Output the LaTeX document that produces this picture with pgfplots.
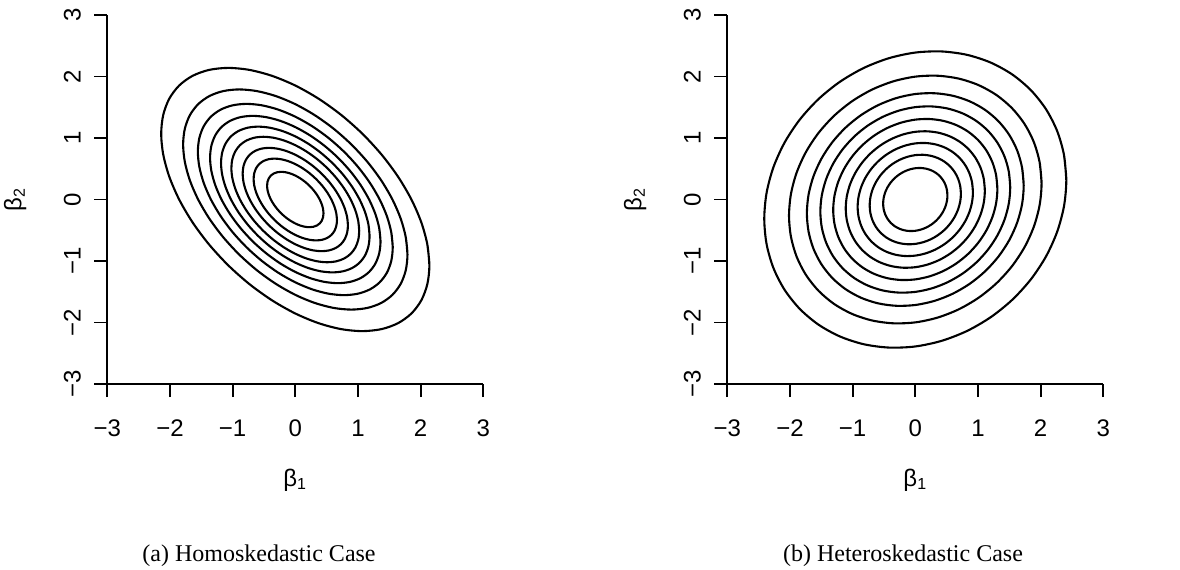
\documentclass[border=0pt]{standalone}
\usepackage{pgfplots}
\pgfplotsset{compat=1.18}
\usepackage{pgfplotstable}
\usepackage{fontspec}
\setmainfont{Liberation Serif}
\newfontfamily\rsans{Liberation Sans}

% Unit-level contour of each density (closed loop, first two points repeated)
\pgfplotstableread{
u v
1.0000 -0.5000
0.9848 -0.3421
0.9397 -0.1737
0.8660 0.0000
0.7660 0.1737
0.6428 0.3420
0.5000 0.5000
0.3420 0.6428
0.1736 0.7660
0.0000 0.8660
-0.1736 0.9396
-0.3420 0.9848
-0.5000 1.0000
-0.6428 0.9848
-0.7660 0.9397
-0.8660 0.8660
-0.9397 0.7661
-0.9848 0.6427
-1.0000 0.5000
-0.9848 0.3421
-0.9397 0.1737
-0.8660 0.0000
-0.7660 -0.1737
-0.6428 -0.3420
-0.5000 -0.5000
-0.3420 -0.6428
-0.1736 -0.7660
0.0000 -0.8660
0.1736 -0.9396
0.3420 -0.9848
0.5000 -1.0000
0.6428 -0.9848
0.7660 -0.9397
0.8660 -0.8660
0.9397 -0.7661
0.9848 -0.6427
1.0000 -0.5000
0.9848 -0.3421
}\homoshape

\pgfplotstableread{
u v
1.0000 0.1300
0.9848 0.3001
0.9397 0.4613
0.8660 0.6084
0.7660 0.7369
0.6428 0.8431
0.5000 0.9236
0.3420 0.9762
0.1736 0.9990
0.0000 0.9915
-0.1736 0.9538
-0.3420 0.8872
-0.5000 0.7936
-0.6428 0.6759
-0.7660 0.5377
-0.8660 0.3832
-0.9397 0.2169
-0.9848 0.0441
-1.0000 -0.1300
-0.9848 -0.3001
-0.9397 -0.4613
-0.8660 -0.6084
-0.7660 -0.7369
-0.6428 -0.8431
-0.5000 -0.9236
-0.3420 -0.9762
-0.1736 -0.9990
0.0000 -0.9915
0.1736 -0.9538
0.3420 -0.8872
0.5000 -0.7936
0.6428 -0.6759
0.7660 -0.5377
0.8660 -0.3832
0.9397 -0.2169
0.9848 -0.0441
1.0000 0.1300
0.9848 0.3001
}\heteroshape

\pgfplotsset{
  rbase/.style={
    scale only axis, width=188pt, height=184.5pt,
    xmin=-3, xmax=3, ymin=-3, ymax=3,
    axis x line*=bottom, axis y line*=left,
    axis line style={black, line width=0.9pt},
    tick align=outside, major tick length=6.5pt,
    tick style={black, line width=0.9pt},
    xtick={-3,-2,-1,0,1,2,3}, ytick={-3,-2,-1,0,1,2,3},
    xticklabels={−3,−2,−1,0,1,2,3},
    yticklabels={−3,−2,−1,0,1,2,3},
    ticklabel style={font=\rsans\fontsize{12}{14}\selectfont},
    xticklabel style={anchor=center, yshift=-15.5pt},
    yticklabel style={anchor=center, xshift=-11pt, rotate=90},
    label style={font=\rsans\fontsize{12}{14}\selectfont},
    xlabel={β\textsubscript{1}},
    ylabel={β\textsubscript{2}},
    xlabel style={at={(axis description cs:0.5,-0.26)}, anchor=center},
    ylabel style={at={(axis description cs:-0.245,0.5)}, anchor=center},
    clip=false,
  },
  ring/.style={black, line width=1.05pt, smooth, no markers},
}

\begin{document}
\begin{tikzpicture}
\useasboundingbox (0,0) rectangle (590pt,-284.5pt);

% Homoskedastic case
\begin{axis}[rbase, at={(53.65pt,-192pt)}, anchor=south west]
\pgfplotsinvokeforeach{0.45,0.665,0.84,1.02,1.185,1.36,1.555,1.79,2.14}{
  \addplot[ring] table[x expr=\thisrow{u}*#1, y expr=\thisrow{v}*#1] {\homoshape};
}
\end{axis}

% Heteroskedastic case
\begin{axis}[rbase, at={(363.65pt,-192pt)}, anchor=south west]
\pgfplotsinvokeforeach{0.513,0.728,0.92,1.11,1.31,1.515,1.73,2.015,2.41}{
  \addplot[ring] table[x expr=\thisrow{u}*#1, y expr=\thisrow{v}*#1] {\heteroshape};
}
\end{axis}

\node[anchor=base, font=\fontsize{12}{14}\selectfont] at (129.5pt,-280.5pt) {(a) Homoskedastic Case};
\node[anchor=base, font=\fontsize{12}{14}\selectfont] at (451.5pt,-280.5pt) {(b) Heteroskedastic Case};
\end{tikzpicture}
\end{document}
